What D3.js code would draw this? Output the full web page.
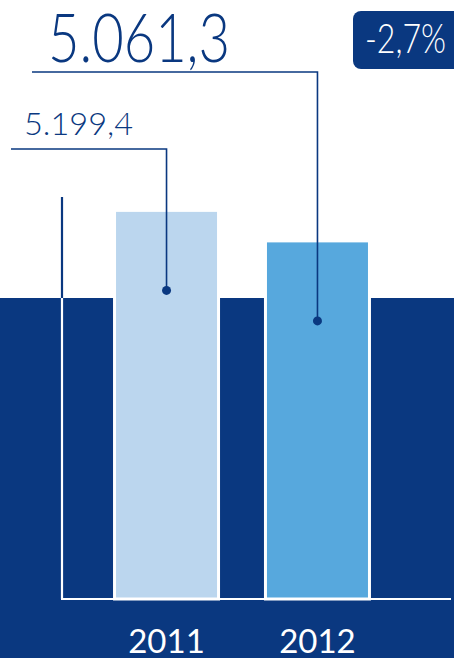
<!DOCTYPE html>
<html>
<head>
<meta charset="utf-8">
<script src="https://cdn.jsdelivr.net/npm/d3@7"></script>
<style>
  html, body { margin: 0; padding: 0; background: #fff; }
  svg { display: block; font-family: Lato, "Open Sans", sans-serif; }
</style>
</head>
<body>
<div id="chart"></div>
<script>
const years = ['2011', '2012'],
      values = [5199.4, 5061.3],
      valueLabels = ['5.199,4', '5.061,3'],
      changeLabel = '-2,7%';

const navy = '#0a3880',
      barColors = ['#bbd6ee', '#57a8dd'];

const width = 454, height = 658;

const svg = d3.select('#chart').append('svg')
      .attr('width', width)
      .attr('height', height);

const xScale = d3.scaleBand()
      .domain(years)
      .range([62, 422])
      .paddingInner(0.311)
      .paddingOuter(0.348);

const yScale = d3.scaleLinear()
      .domain([3440, 5260])
      .range([599, 197]);

// dark band behind lower part of chart
svg.append('rect')
    .attr('x', 0)
    .attr('y', 298)
    .attr('width', width)
    .attr('height', height - 298)
    .style('fill', navy);

// axis line, navy above the band and white inside it
svg.append('line')
    .attr('x1', 62).attr('x2', 62)
    .attr('y1', yScale.range()[1]).attr('y2', 298)
    .style('stroke', navy)
    .style('stroke-width', 2.2);

svg.append('line')
    .attr('x1', 62).attr('x2', 62)
    .attr('y1', 298).attr('y2', yScale.range()[0])
    .style('stroke', '#fff')
    .style('stroke-width', 2.2);

svg.append('line')
    .attr('x1', 61).attr('x2', 451)
    .attr('y1', yScale.range()[0]).attr('y2', yScale.range()[0])
    .style('stroke', '#fff')
    .style('stroke-width', 2.2);

const data = years.map((y, i) => ({ year: y, value: values[i], label: valueLabels[i], color: barColors[i] }));

svg.append('g').selectAll('rect')
    .data(data)
  .enter().append('rect')
    .attr('x', d => xScale(d.year))
    .attr('y', d => yScale(d.value))
    .attr('width', xScale.bandwidth())
    .attr('height', d => yScale.range()[0] - yScale(d.value))
    .style('fill', d => d.color)
    .style('stroke', '#fff')
    .style('stroke-width', 3);

// leader lines from dots to the value labels
const leaders = [
  { lineY: 149, endX: 11, textX: 24, textY: 135, size: 31, tl: 109 },
  { lineY: 72, endX: 32, textX: 48, textY: 62, size: 67, tl: 182 }
];

data.forEach((d, i) => {
  const cx = xScale(d.year) + xScale.bandwidth() / 2,
        cy = yScale(d.value) + 80,
        l = leaders[i];

  svg.append('path')
      .attr('d', `M${cx},${cy}V${l.lineY}H${l.endX}`)
      .style('fill', 'none')
      .style('stroke', navy)
      .style('stroke-width', 1.6);

  svg.append('circle')
      .attr('cx', cx)
      .attr('cy', cy)
      .attr('r', 4.5)
      .style('fill', navy);

  svg.append('text')
      .attr('x', l.textX)
      .attr('y', l.textY)
      .attr('textLength', l.tl)
      .attr('lengthAdjust', 'spacingAndGlyphs')
      .style('font-size', l.size + 'px')
      .style('font-weight', 300)
      .style('fill', navy)
      .text(d.label);
});

// year labels
svg.append('g').selectAll('text')
    .data(data)
  .enter().append('text')
    .attr('x', d => xScale(d.year) + xScale.bandwidth() / 2)
    .attr('y', 652.5)
    .attr('text-anchor', 'middle')
    .style('font-size', '33px')
    .style('font-weight', 400)
    .style('fill', '#fff')
    .text(d => d.year);

// change badge
svg.append('rect')
    .attr('x', 353)
    .attr('y', 11)
    .attr('width', 120)
    .attr('height', 58)
    .attr('rx', 8)
    .style('fill', navy);

svg.append('text')
    .attr('x', 365)
    .attr('y', 53)
    .attr('textLength', 81)
    .attr('lengthAdjust', 'spacingAndGlyphs')
    .style('font-size', '42px')
    .style('font-weight', 300)
    .style('fill', '#fff')
    .text(changeLabel);
</script>
</body>
</html>
